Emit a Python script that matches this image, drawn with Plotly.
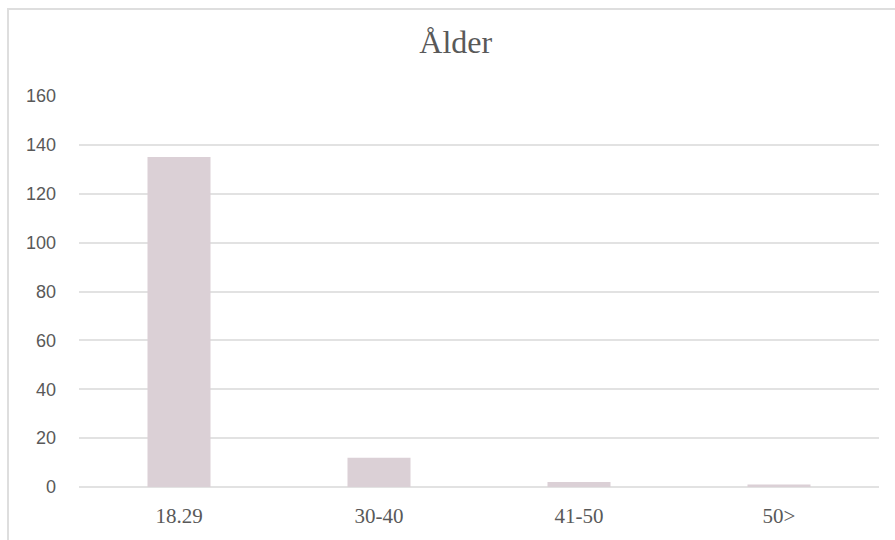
import plotly.graph_objects as go

# Age groups and respondent counts
categories = ["18.29", "30-40", "41-50", "50>"]
counts = [135, 12, 2, 1]
y_ticks = [0, 20, 40, 60, 80, 100, 120, 140, 160]

W, H = 895, 540
left, right, top, bottom = 79, 16, 96, 49

fig = go.Figure(
    go.Bar(
        x=categories,
        y=counts,
        marker=dict(color="#dbd0d6", line=dict(width=0)),
        width=0.315,
        hoverinfo="x+y",
    )
)

serif = "Liberation Serif, Times New Roman, serif"
sans = "Liberation Sans, Arial, sans-serif"

fig.update_layout(
    width=W,
    height=H,
    margin=dict(l=left, r=right, t=top, b=bottom, pad=0),
    paper_bgcolor="white",
    plot_bgcolor="white",
    showlegend=False,
    title=dict(
        text="Ålder",
        font=dict(family=serif, size=32, color="#595959"),
        xref="container",
        yref="container",
        x=455.8 / W,
        y=1 - 42 / H,
        xanchor="center",
        yanchor="middle",
    ),
    xaxis=dict(
        type="category",
        showgrid=False,
        showline=False,
        ticks="",
        tickfont=dict(family=serif, size=21, color="#595959"),
        ticklabelstandoff=14,
    ),
    yaxis=dict(
        range=[0, 160],
        tickvals=y_ticks,
        showgrid=True,
        gridcolor="#e2e2e2",
        gridwidth=1.6,
        zeroline=True,
        zerolinecolor="#e2e2e2",
        zerolinewidth=1.6,
        showline=False,
        ticks="",
        tickfont=dict(family=sans, size=18, color="#595959"),
        ticklabelstandoff=22,
    ),
    shapes=[
        # outer chart frame (extends past the visible page on right/bottom)
        dict(
            type="rect",
            xref="paper",
            yref="paper",
            x0=(8 - left) / (W - left - right),
            x1=2.0,
            y0=-1.0,
            y1=(H - bottom - 8) / (H - top - bottom),
            line=dict(color="#dedede", width=2),
            fillcolor="rgba(0,0,0,0)",
            layer="below",
        )
    ],
)

fig.write_html("out.html")
